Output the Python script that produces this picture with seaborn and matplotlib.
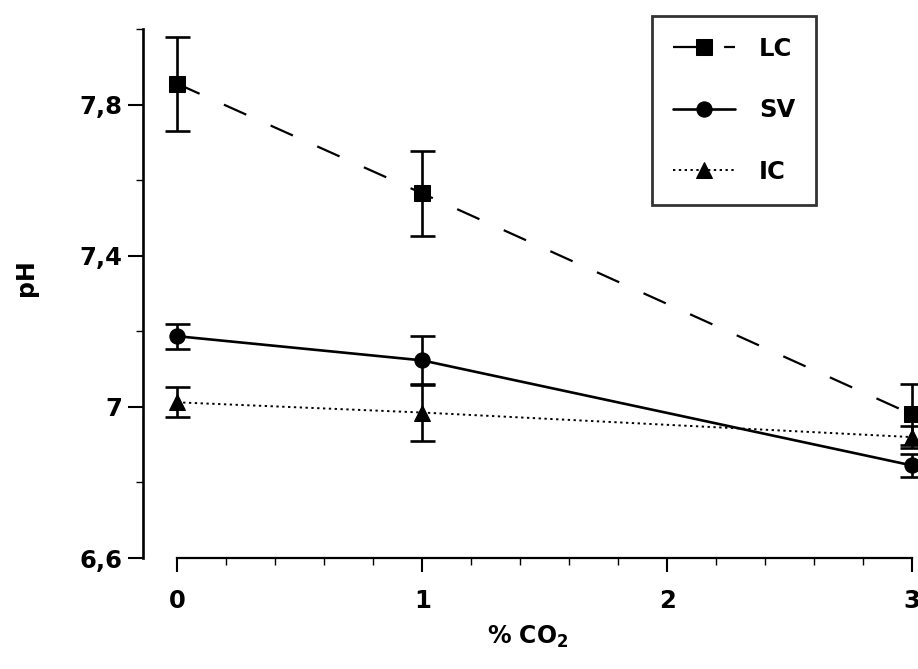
import matplotlib
matplotlib.use("Agg")
import matplotlib.pyplot as plt
from matplotlib.ticker import MultipleLocator
import seaborn as sns
import pandas as pd

# % CO2 levels
co2 = [0, 1, 3]
# mean pH and error for each group
lc_ph = [7.855, 7.565, 6.98]
lc_err = [0.125, 0.113, 0.08]
sv_ph = [7.187, 7.123, 6.845]
sv_err = [0.033, 0.065, 0.03]
ic_ph = [7.012, 6.985, 6.92]
ic_err = [0.04, 0.075, 0.03]

ytick_vals = [6.6, 7.0, 7.4, 7.8]
ytick_labels = ["6,6", "7", "7,4", "7,8"]
xtick_vals = [0, 1, 2, 3]

sns.set_style("ticks")
plt.rcParams['font.family'] = ['DejaVu Sans']
plt.rcParams['font.weight'] = 'bold'
for key in ["text.color", "axes.edgecolor", "axes.labelcolor", "xtick.color", "ytick.color"]:
    plt.rcParams[key] = "black"

fig = plt.figure(figsize=(9.18, 6.69), dpi=100)
ax = fig.add_axes([143 / 918, 111 / 669, (912 - 143) / 918, (558 - 29) / 669])

series = [
    ("LC", lc_ph, lc_err, "s", 12, (0, (11, 12)), 1.6),
    ("SV", sv_ph, sv_err, "o", 11, "-", 1.9),
    ("IC", ic_ph, ic_err, "^", 11, (0, (1.2, 1.8)), 1.4),
]
for name, ph, err, mk, ms, ls, lw in series:
    df = pd.DataFrame({"co2": co2, "pH": ph})
    sns.lineplot(data=df, x="co2", y="pH", ax=ax, color="black", marker=mk,
                 markersize=ms, linestyle=ls, linewidth=lw, label=name,
                 markeredgecolor="black", errorbar=None, clip_on=False)
    ax.errorbar(co2, ph, yerr=err, fmt="none", ecolor="black", elinewidth=1.9,
                capsize=9, capthick=1.9, clip_on=False)

ax.set_xlim(-0.14, 3.0)
ax.set_ylim(6.6, 8.0)
ax.set_xticks(xtick_vals)
ax.set_xticklabels([str(v) for v in xtick_vals])
ax.set_yticks(ytick_vals)
ax.set_yticklabels(ytick_labels)
ax.xaxis.set_minor_locator(MultipleLocator(0.2))
ax.yaxis.set_minor_locator(MultipleLocator(0.2))

sns.despine(ax=ax)
ax.spines["bottom"].set_bounds(0, 3)
ax.spines["left"].set_linewidth(1.9)
ax.spines["bottom"].set_linewidth(1.6)

ax.tick_params(axis="y", which="major", length=11, width=1.5, pad=4, labelsize=17.5)
ax.tick_params(axis="y", which="minor", length=5, width=1.0)
ax.tick_params(axis="x", which="major", length=10, width=1.5, pad=12, labelsize=17.5)
ax.tick_params(axis="x", which="minor", length=5, width=1.0)
for lab in ax.get_xticklabels() + ax.get_yticklabels():
    lab.set_fontweight("bold")

ax.set_ylabel("pH", fontsize=17, fontweight="bold")
ax.yaxis.set_label_coords(-0.137, 0.53)
ax.set_xlabel("% CO$_\\mathbf{2}$", fontsize=17, fontweight="bold")
ax.xaxis.set_label_coords(0.5, -0.125)

leg = ax.legend(loc="upper left", bbox_to_anchor=(652 / 918, 1 - 16 / 669),
                bbox_transform=fig.transFigure, frameon=True, fancybox=False,
                fontsize=17.5, handlelength=2.55, handletextpad=1.0,
                labelspacing=1.55, borderpad=0.85, borderaxespad=0)
leg.get_frame().set_edgecolor("black")
leg.get_frame().set_linewidth(2.0)
for t in leg.get_texts():
    t.set_fontweight("bold")

fig.savefig("out.png", dpi=100)
